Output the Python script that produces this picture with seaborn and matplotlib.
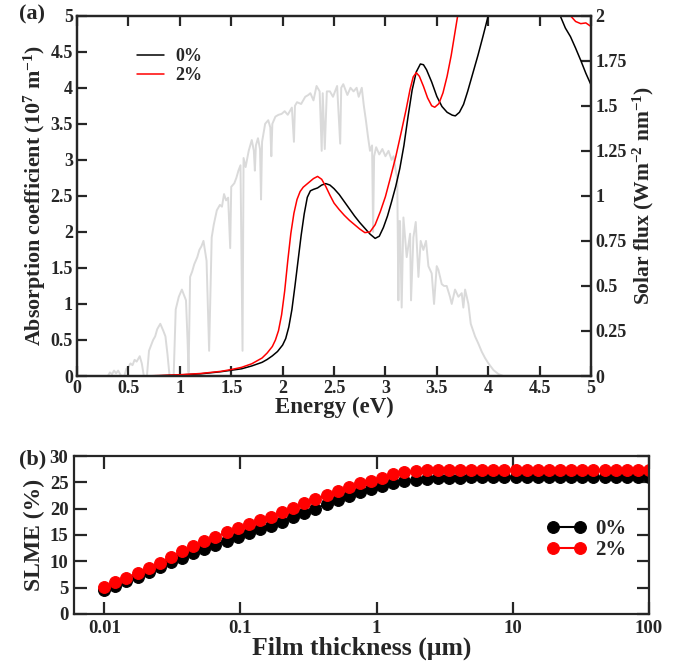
import numpy as np
import matplotlib
matplotlib.use("Agg")
import matplotlib.pyplot as plt
import seaborn as sns
from matplotlib.ticker import FuncFormatter, MultipleLocator, NullLocator

# ---- panel (a): absorption coefficient (10^7 m^-1) vs photon energy (eV)
energy_0 = [0.6, 0.8, 1.0, 1.2, 1.4, 1.5, 1.6, 1.7, 1.8, 1.85, 1.9, 1.95, 2.0, 2.03,
            2.06, 2.09, 2.12, 2.15, 2.18, 2.21, 2.24, 2.27, 2.3, 2.34, 2.38, 2.42,
            2.46, 2.5, 2.55, 2.6, 2.65, 2.7, 2.75, 2.8, 2.85, 2.9, 2.94, 2.98, 3.02,
            3.06, 3.1, 3.14, 3.18, 3.22, 3.26, 3.3, 3.34, 3.37, 3.4, 3.45, 3.5, 3.55,
            3.6, 3.65, 3.68, 3.72, 3.76, 3.8, 3.85, 3.9, 3.95, 4.0, 4.1, 4.3, 4.5,
            4.65, 4.7, 4.75, 4.8, 4.85, 4.9, 4.95, 5.0]
absorb_0 = [0.0, 0.005, 0.015, 0.03, 0.06, 0.08, 0.1, 0.14, 0.19, 0.23, 0.28, 0.34,
            0.43, 0.52, 0.68, 0.92, 1.25, 1.6, 1.95, 2.25, 2.48, 2.57, 2.59, 2.61,
            2.65, 2.67, 2.65, 2.6, 2.52, 2.42, 2.32, 2.22, 2.13, 2.05, 1.97, 1.91,
            1.94, 2.06, 2.22, 2.42, 2.63, 2.88, 3.2, 3.6, 3.97, 4.22, 4.33, 4.32,
            4.25, 4.08, 3.88, 3.74, 3.66, 3.62, 3.61, 3.66, 3.77, 3.95, 4.2, 4.45,
            4.72, 5.0, 5.5, 5.9, 5.7, 5.2, 5.0, 4.83, 4.71, 4.55, 4.38, 4.2, 4.04]

energy_2 = [0.6, 0.8, 1.0, 1.2, 1.4, 1.5, 1.6, 1.7, 1.75, 1.8, 1.85, 1.9, 1.93, 1.96,
            1.99, 2.02, 2.05, 2.08, 2.11, 2.14, 2.17, 2.2, 2.25, 2.3, 2.34, 2.38,
            2.42, 2.46, 2.5, 2.55, 2.6, 2.65, 2.7, 2.75, 2.8, 2.85, 2.9, 2.95, 3.0,
            3.05, 3.1, 3.15, 3.2, 3.24, 3.27, 3.3, 3.33, 3.37, 3.41, 3.45, 3.48, 3.52,
            3.56, 3.6, 3.64, 3.68, 3.72, 3.8, 4.0, 4.4, 4.7, 4.8, 4.85, 4.9, 4.95, 5.0]
absorb_2 = [0.0, 0.006, 0.018, 0.035, 0.065, 0.09, 0.12, 0.17, 0.21, 0.25, 0.32, 0.41,
            0.5, 0.63, 0.85, 1.18, 1.6, 1.98, 2.26, 2.45, 2.56, 2.62, 2.68, 2.74,
            2.77, 2.73, 2.63, 2.51, 2.4, 2.31, 2.23, 2.16, 2.1, 2.04, 1.99, 2.0, 2.1,
            2.28, 2.49, 2.76, 3.04, 3.36, 3.69, 3.98, 4.15, 4.21, 4.16, 4.02, 3.86,
            3.75, 3.73, 3.78, 3.93, 4.16, 4.45, 4.8, 5.15, 5.7, 6.2, 6.0, 5.4, 5.0,
            4.92, 4.89, 4.9, 4.85]

# AM1.5 solar flux (W m^-2 nm^-1)
solar_energy = [0.30, 0.32, 0.34, 0.36, 0.38, 0.40, 0.43, 0.46, 0.48, 0.50,
                0.52, 0.54, 0.56, 0.58, 0.61, 0.63, 0.65, 0.68, 0.70, 0.72,
                0.74, 0.76, 0.78, 0.81, 0.84, 0.86, 0.88, 0.90, 0.94, 0.96,
                0.99, 1.02, 1.04, 1.06, 1.075, 1.085, 1.10, 1.12, 1.14, 1.17,
                1.19, 1.21, 1.23, 1.26, 1.285, 1.31, 1.33, 1.36, 1.39, 1.41,
                1.43, 1.45, 1.47, 1.49, 1.50, 1.53, 1.55, 1.57, 1.59, 1.61,
                1.62, 1.64, 1.67, 1.70, 1.72, 1.73, 1.74, 1.76, 1.78, 1.79,
                1.80, 1.83, 1.86, 1.88, 1.89, 1.90, 1.93, 1.96, 1.99, 2.02,
                2.05, 2.09, 2.11, 2.12, 2.14, 2.18, 2.22, 2.25, 2.27, 2.30,
                2.33, 2.36, 2.38, 2.39, 2.41, 2.43, 2.46, 2.49, 2.53, 2.56,
                2.57, 2.59, 2.63, 2.66, 2.69, 2.72, 2.74, 2.77, 2.79, 2.81,
                2.83, 2.85, 2.87, 2.88, 2.89, 2.91, 2.94, 2.97, 3.00, 3.03,
                3.06, 3.08, 3.10, 3.115, 3.126, 3.135, 3.142, 3.158, 3.175, 3.207,
                3.24, 3.249, 3.272, 3.295, 3.321, 3.343, 3.369, 3.395, 3.418, 3.45,
                3.473, 3.499, 3.515, 3.548, 3.57, 3.596, 3.628, 3.645, 3.677, 3.71,
                3.742, 3.758, 3.775, 3.807, 3.83, 3.872, 3.904, 3.937, 3.969, 4.002,
                4.051, 4.099, 4.147]
solar_flux = [0.0, 0.02, 0.01, 0.03, 0.015, 0.03, 0.0, 0.0, 0.04, 0.05,
              0.07, 0.06, 0.09, 0.08, 0.11, 0.07, 0.0, 0.0, 0.14, 0.17,
              0.2, 0.22, 0.26, 0.29, 0.25, 0.22, 0.12, 0.0, 0.0, 0.37,
              0.44, 0.48, 0.45, 0.42, 0.2, 0.02, 0.55, 0.58, 0.62, 0.66,
              0.70, 0.72, 0.75, 0.64, 0.14, 0.77, 0.84, 0.92, 0.95, 0.94,
              1.01, 0.975, 0.99, 0.71, 1.05, 1.07, 1.10, 1.14, 1.17, 0.14,
              1.21, 1.16, 1.25, 1.31, 1.25, 1.14, 1.28, 1.32, 1.26, 0.98,
              1.30, 1.40, 1.42, 1.38, 1.22, 1.40, 1.44, 1.45, 1.455, 1.47,
              1.45, 1.49, 1.30, 1.50, 1.52, 1.51, 1.55, 1.56, 1.57, 1.53,
              1.61, 1.58, 1.25, 1.57, 1.26, 1.58, 1.58, 1.55, 1.61, 1.29,
              1.60, 1.62, 1.56, 1.60, 1.58, 1.60, 1.55, 1.60, 1.50, 1.42,
              1.33, 1.25, 1.28, 0.80, 1.22, 1.27, 1.23, 1.26, 1.22, 1.25,
              1.20, 1.22, 1.14, 1.10, 0.42, 0.86, 0.86, 0.38, 0.88, 0.66,
              0.79, 0.42, 0.77, 0.855, 0.55, 0.75, 0.70, 0.75, 0.61, 0.57,
              0.40, 0.61, 0.59, 0.51, 0.50, 0.50, 0.44, 0.40, 0.48, 0.44,
              0.46, 0.38, 0.48, 0.40, 0.29, 0.22, 0.18, 0.135, 0.10, 0.07,
              0.033, 0.011, 0.0]

# ---- panel (b): SLME (%) vs film thickness (um)
thickness = [0.01, 0.01207, 0.01456, 0.01758, 0.02121, 0.0256, 0.03089, 0.03728,
             0.04498, 0.05429, 0.06551, 0.07906, 0.09541, 0.1151, 0.139, 0.1677,
             0.2024, 0.2442, 0.2947, 0.3556, 0.4292, 0.518, 0.6251, 0.7543, 0.9103,
             1.099, 1.326, 1.6, 1.931, 2.33, 2.812, 3.393, 4.095, 4.942, 5.964,
             7.197, 8.685, 10.48, 12.65, 15.26, 18.42, 22.23, 26.83, 32.37, 39.07,
             47.15, 56.9, 68.66, 82.86, 100.0]
slme_0 = [4.6, 5.4, 6.2, 7.1, 8.0, 8.9, 9.8, 10.6, 11.5, 12.4, 13.1, 13.9, 14.6,
          15.4, 16.1, 16.8, 17.5, 18.4, 19.2, 20.0, 20.9, 21.7, 22.4, 23.1, 23.7,
          24.3, 24.8, 25.2, 25.5, 25.7, 25.8, 25.9, 25.9, 26.0, 26.0, 26.0, 26.0,
          26.0, 26.0, 26.0, 26.0, 26.0, 26.0, 26.0, 26.0, 26.0, 26.0, 26.0, 26.0, 26.0]
slme_2 = [5.2, 6.0, 6.9, 7.8, 8.8, 9.7, 10.8, 11.9, 12.9, 13.8, 14.6, 15.5, 16.3,
          17.1, 17.8, 18.5, 19.4, 20.2, 21.0, 21.8, 22.6, 23.4, 24.1, 24.8, 25.3,
          25.9, 26.5, 26.9, 27.1, 27.3, 27.4, 27.4, 27.4, 27.4, 27.4, 27.4, 27.4,
          27.4, 27.4, 27.4, 27.4, 27.4, 27.4, 27.4, 27.4, 27.4, 27.4, 27.4, 27.4, 27.4]

sns.set_style("ticks")
plt.rcParams['font.family'] = ['Liberation Serif', 'DejaVu Serif']
plt.rcParams['font.weight'] = 'bold'
plt.rcParams['axes.labelweight'] = 'bold'
plt.rcParams['mathtext.fontset'] = 'custom'
plt.rcParams['mathtext.rm'] = 'Liberation Serif:bold'
plt.rcParams['mathtext.bf'] = 'Liberation Serif:bold'
plt.rcParams['mathtext.default'] = 'bf'
plt.rcParams['axes.linewidth'] = 1.6

fmt_g = FuncFormatter(lambda v, pos: f"{v:g}")

fig = plt.figure(figsize=(6.89, 6.66), dpi=100)

# ---------------- (a)
ax = fig.add_axes([0.1118, 0.4354, 0.746, 0.541])
ax2 = ax.twinx()
sns.lineplot(x=solar_energy, y=solar_flux, ax=ax2, color='#dadada', lw=1.4,
             sort=False, estimator=None)
sns.lineplot(x=energy_0, y=absorb_0, ax=ax, color='black', lw=1.1, label='0%',
             sort=False, estimator=None)
sns.lineplot(x=energy_2, y=absorb_2, ax=ax, color='#ff0000', lw=1.1, label='2%',
             sort=False, estimator=None)
ax.set_zorder(ax2.get_zorder() + 1)
ax.patch.set_visible(False)

ax.set_xlim(0, 5)
ax.set_ylim(0, 5)
ax2.set_ylim(0, 2)
ax.xaxis.set_major_locator(MultipleLocator(0.5))
ax.yaxis.set_major_locator(MultipleLocator(0.5))
ax2.yaxis.set_major_locator(MultipleLocator(0.25))
for a in (ax, ax2):
    a.xaxis.set_major_formatter(fmt_g)
    a.yaxis.set_major_formatter(fmt_g)
ax.tick_params(direction='in', length=7, width=1.6, labelsize=13, top=True, right=False, pad=3)
ax2.tick_params(direction='in', length=7, width=1.6, labelsize=13, pad=3)
for lab in ax.get_xticklabels() + ax.get_yticklabels() + ax2.get_yticklabels():
    lab.set_fontweight('bold')
ax.set_xlabel('Energy (eV)', fontsize=16.5, fontweight='bold', labelpad=0)
ax.set_ylabel('Absorption coefficient (10$^{7}$ m$^{-1}$)', fontsize=15.8,
              fontweight='bold', labelpad=2)
ax2.set_ylabel('Solar flux (Wm$^{-2}$ nm$^{-1}$)', fontsize=15.5, fontweight='bold',
               labelpad=3)
leg = ax.legend(loc='upper left', bbox_to_anchor=(0.085, 0.955), frameon=False,
                fontsize=13, handlelength=1.5, handletextpad=0.6, labelspacing=0.1)
for t in leg.get_texts():
    t.set_fontweight('bold')
fig.text(0.028, 0.978, '(a)', fontsize=16, fontweight='bold', va='center')

# ---------------- (b)
bx = fig.add_axes([0.1074, 0.0781, 0.8346, 0.2372])
sns.lineplot(x=thickness, y=slme_0, ax=bx, color='black', lw=1.5, marker='o',
             markersize=8.5, markeredgecolor='black', label='0%', sort=False,
             estimator=None)
sns.lineplot(x=thickness, y=slme_2, ax=bx, color='#ff0000', lw=1.5, marker='o',
             markersize=8.5, markeredgecolor='#ff0000', label='2%', sort=False,
             estimator=None)
bx.set_xscale('log')
bx.set_xlim(0.006, 100)
bx.set_ylim(0, 30)
bx.set_xticks([0.01, 0.1, 1, 10, 100])
bx.xaxis.set_major_formatter(fmt_g)
bx.xaxis.set_minor_locator(NullLocator())
bx.yaxis.set_major_locator(MultipleLocator(5))
bx.tick_params(direction='in', length=9, width=1.6, labelsize=13.5, top=True, right=True, pad=4)
for lab in bx.get_xticklabels() + bx.get_yticklabels():
    lab.set_fontweight('bold')
bx.set_xlabel('Film thickness (\u03bcm)', fontsize=18.5, fontweight='bold', labelpad=0)
bx.set_ylabel('SLME (%)', fontsize=17, fontweight='bold', labelpad=3)
leg2 = bx.legend(loc='upper left', bbox_to_anchor=(0.79, 0.72), frameon=False,
                 fontsize=15, numpoints=2, handlelength=1.9, handletextpad=0.4,
                 labelspacing=0.05)
for t in leg2.get_texts():
    t.set_fontweight('bold')
fig.text(0.028, 0.31, '(b)', fontsize=16, fontweight='bold', va='center')

fig.savefig('out.png', dpi=100)
